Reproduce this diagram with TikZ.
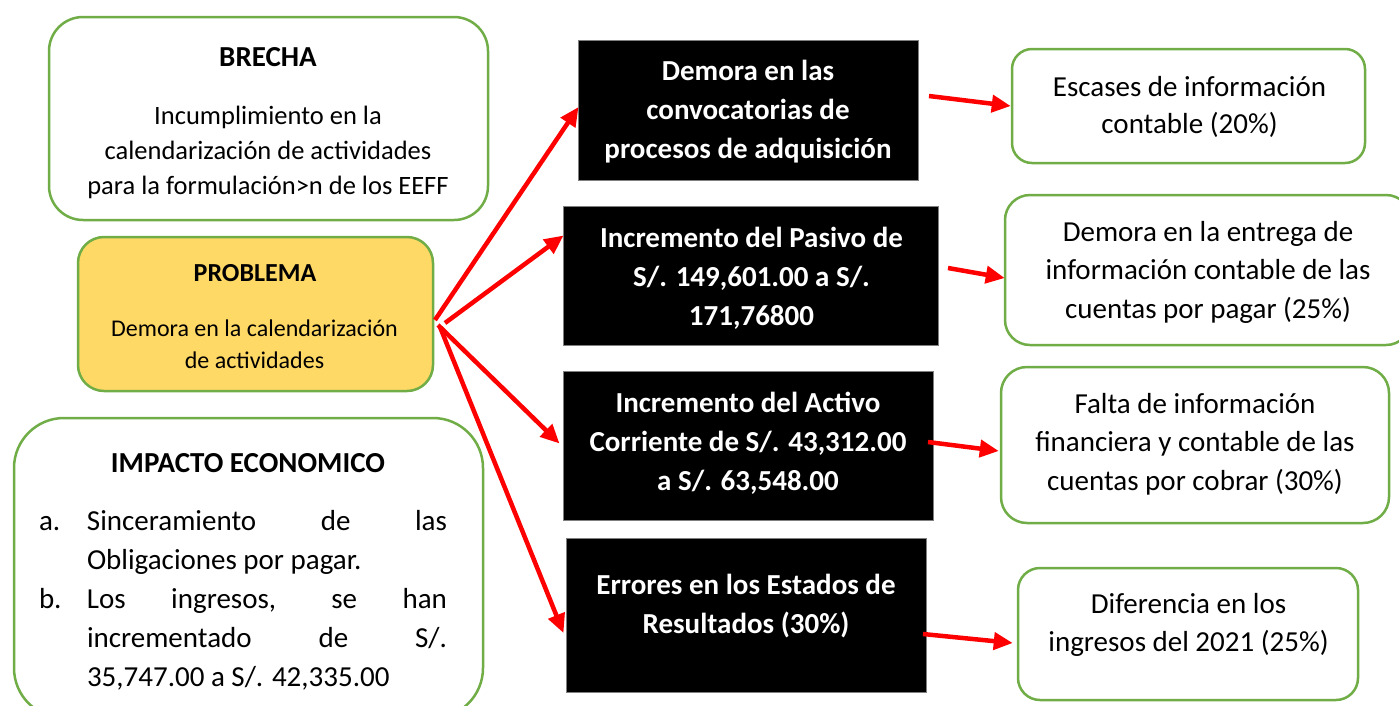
\documentclass[tikz,border=0pt]{standalone}
\usepackage{fontspec}
\setmainfont{Carlito}
\usetikzlibrary{arrows.meta,calc}
\definecolor{gr}{HTML}{70AD47}
\definecolor{gold}{HTML}{FFD966}
\definecolor{rd}{HTML}{FF0000}
\definecolor{bgray}{HTML}{7F7F7F}
\newcommand\fsz[2]{\fontsize{#1pt}{#2pt}\selectfont}
\begin{document}
\begin{tikzpicture}[x=1pt,y=-1pt,
  gbox/.style={draw=gr,line width=2.5pt,fill=white,rounded corners=#1,inner sep=0pt},
  gbox/.default=25pt,
  ybox/.style={gbox=#1,fill=gold},
  kbox/.style={draw=bgray,line width=1pt,fill=black,inner sep=0pt},
  txt/.style={align=center,inner sep=0pt},
  wtxt/.style={txt,text=white,font=\fsz{29}{39}\bfseries},
  rtxt/.style={txt,font=\fsz{29}{38.5}},
  arr/.style={draw=rd,line width=4.5pt,-{Triangle[length=19pt,width=17pt]}}
]
\path[use as bounding box] (0,0) rectangle (1399,705);
\clip (0,0) rectangle (1399,705);

% left boxes
\node[gbox=34pt,minimum width=439pt,minimum height=203pt] (brecha) at (268.5,118.5) {};
\node[txt,font=\fsz{29}{35}\bfseries] (brechaH) at (268,57) {BRECHA};
\node[txt,font=\fsz{26.5}{35}] (brechaB) at (268,152) {Incumplimiento en la\\calendarización de actividades\\para la formulación>n de los EEFF};

\node[ybox=26pt,minimum width=355pt,minimum height=154pt] (prob) at (255.5,314) {};
\node[txt,font=\fsz{26}{32}\bfseries] (probH) at (255,273) {PROBLEMA};
\node[txt,font=\fsz{24}{32}] (probB) at (254.5,344) {Demora en la calendarización\\de actividades};

\node[gbox=50pt,minimum width=469pt,minimum height=300pt] (imp) at (248.5,568) {};
\node[txt,font=\fsz{29}{39}\bfseries] (impH) at (248,463) {IMPACTO ECONOMICO};
\node[align=left,inner sep=0pt,font=\fsz{29}{39}] (impL) at (243,600.5) {%
\makebox[48pt][l]{a.}\makebox[360pt][s]{Sinceramiento de las}\\
\hspace*{48pt}Obligaciones por pagar.\\
\makebox[48pt][l]{b.}\makebox[360pt][s]{Los ingresos, se han}\\
\hspace*{48pt}\makebox[360pt][s]{incrementado de S/.}\\
\hspace*{48pt}35,747.00 a S/. 42,335.00};

% black boxes
\node[kbox,minimum width=340pt,minimum height=140pt] (b1) at (748,110) {};
\node[wtxt] (b1t) at (748,112) {Demora en las\\convocatorias de\\procesos de adquisición};
\node[kbox,minimum width=375pt,minimum height=139pt] (b2) at (750.5,275.5) {};
\node[wtxt] (b2t) at (751.5,278) {Incremento del Pasivo de\\S/. 149,601.00 a S/.\\171,76800};
\node[kbox,minimum width=370pt,minimum height=149pt] (b3) at (748,445.5) {};
\node[wtxt] (b3t) at (748,443.5) {Incremento del Activo\\Corriente de S/. 43,312.00\\a S/. 63,548.00};
\node[kbox,minimum width=360pt,minimum height=154pt] (b4) at (746,615) {};
\node[wtxt] (b4t) at (746,606) {Errores en los Estados de\\Resultados (30\%)};

% right boxes
\node[gbox=20pt,minimum width=353pt,minimum height=114pt] (r1) at (1188.5,106) {};
\node[rtxt,font=\fsz{29}{37}] (r1t) at (1189.5,106.5) {Escases de información\\contable (20\%)};
\node[gbox=25pt,minimum width=406pt,minimum height=150pt] (r2) at (1208,270) {};
\node[rtxt] (r2t) at (1208,272) {Demora en la entrega de\\información contable de las\\cuentas por pagar (25\%)};
\node[gbox=26pt,minimum width=388pt,minimum height=156pt] (r3) at (1195,445) {};
\node[rtxt] (r3t) at (1195,444) {Falta de información\\financiera y contable de las\\cuentas por cobrar (30\%)};
\node[gbox=22pt,minimum width=340pt,minimum height=132pt] (r4) at (1188,634) {};
\node[rtxt,font=\fsz{29}{38}] (r4t) at (1188.5,624.5) {Diferencia en los\\ingresos del 2021 (25\%)};

% arrow start points
\coordinate (s1) at (435,320);
\coordinate (s2) at (445,323);
\coordinate (s3) at (438,325);
\coordinate (s4) at (440,327);
\coordinate (t1) at (929,96);
\coordinate (t2) at (948,268);
\coordinate (t3) at (928,442);
\coordinate (t4) at (923,634);

\draw[arr] (s1) -- ($(b1.west)+(1,-3)$);
\draw[arr] (s2) -- ($(b2.west)+(1,-40)$);
\draw[arr] (s3) -- ($(b3.west)+(-3,-2)$);
\draw[arr] (s4) -- ($(b4.west)+(-2,18)$);

\draw[arr] (t1) -- (r1.west);
\draw[arr] (t2) -- ($(r2.west)+(1,8)$);
\draw[arr] (t3) -- ($(r3.west)+(-1,6)$);
\draw[arr] (t4) -- ($(r4.west)+(-4,9)$);
\end{tikzpicture}
\end{document}
